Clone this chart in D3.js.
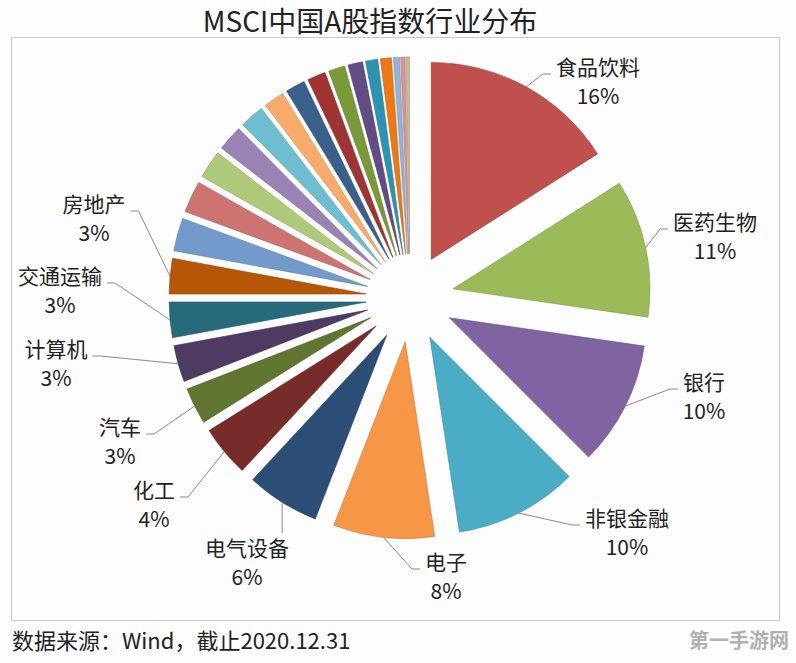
<!DOCTYPE html>
<html>
<head>
<meta charset="utf-8">
<script src="https://cdn.jsdelivr.net/npm/d3@7"></script>
<style>
  body { margin: 0; background: #fdfdfe; }
  svg text { font-family: "Noto Sans CJK SC", "Noto Sans", sans-serif; fill: #222; }
</style>
</head>
<body>
<div id="chart"></div>
<script>
// industry weights, clockwise from 12 o'clock
const industries = ["食品饮料", "医药生物", "银行", "非银金融", "电子", "电气设备", "化工", "汽车", "计算机", "交通运输", "房地产",
  "其他1", "其他2", "其他3", "其他4", "其他5", "其他6", "其他7", "其他8", "其他9", "其他10", "其他11", "其他12", "其他13", "其他14", "其他15"];
const weights = [16.0, 11.3, 10.2, 10.1, 8.3, 6.0, 4.2, 3.0, 3.0, 2.9, 2.9,
  2.7, 2.6, 2.3, 2.1, 2.0, 1.7, 1.6, 1.5, 1.35, 1.2, 1.0, 0.9, 0.5, 0.35, 0.3];
const labelled = 11; // first 11 slices carry labels

const colors = ["#c0504d", "#9bbb59", "#8064a2", "#4bacc6", "#f79646", "#2c4d75", "#772c2a", "#5f7530", "#4d3b62", "#276a7c", "#b65708",
  "#729aca", "#cd7371", "#afc97a", "#9983b5", "#6fbdd1", "#f9ab6b", "#3a5f8b", "#9e3532", "#7a9a3a", "#624c84", "#2e93b0", "#ec7a14", "#95b3d7", "#d99694", "#c4bd97"];

// label name centres (layout, not data)
const labelPos = [[598, 68], [715, 223], [704, 383], [627, 519], [446, 563], [247, 549], [154, 491], [120, 428], [56, 350], [60, 277], [94, 205]];

const width = 796, height = 663;
const cx = 410, cy = 298, radius = 197, explode = 44;

const svg = d3.select("#chart").append("svg")
  .attr("width", width).attr("height", height);

svg.append("rect").attr("x", 11.5).attr("y", 37.5).attr("width", 768).attr("height", 583)
  .attr("fill", "#fdfdfe").attr("stroke", "#c9c9c9");

svg.append("text").attr("x", 370).attr("y", 32).attr("text-anchor", "middle")
  .attr("font-size", 28).text("MSCI中国A股指数行业分布");

svg.append("text").attr("x", 12).attr("y", 649).attr("font-size", 22)
  .text("数据来源：Wind，截止2020.12.31");

svg.append("text").attr("x", 789).attr("y", 648).attr("text-anchor", "end")
  .attr("font-size", 20).attr("font-weight", "bold").style("fill", "#b0b0b0")
  .text("第一手游网");

const pie = d3.pie().sort(null).value(d => d);
const arc = d3.arc().innerRadius(0).outerRadius(radius);
const arcs = pie(weights);
const total = d3.sum(weights);

const g = svg.append("g").attr("transform", `translate(${cx},${cy})`);

function mid(d) { return (d.startAngle + d.endAngle) / 2; }

g.selectAll("path.slice").data(arcs).enter()
  .append("path")
  .attr("class", "slice")
  .attr("transform", d => `translate(${explode * Math.sin(mid(d))},${-explode * Math.cos(mid(d))})`)
  .attr("d", arc)
  .attr("fill", (d, i) => colors[i])
  .attr("stroke", (d, i) => d3.color(colors[i]).darker(0.6))
  .attr("stroke-width", 0.6);

const labels = svg.append("g");
arcs.slice(0, labelled).forEach((d, i) => {
  const [lx, ly] = labelPos[i];
  const name = labels.append("text").attr("x", lx).attr("y", ly + 7).attr("text-anchor", "middle")
    .attr("font-size", 21).text(industries[i]);
  labels.append("text").attr("x", lx).attr("y", ly + 36).attr("text-anchor", "middle")
    .attr("font-size", 21).text(Math.round(d.value / total * 100) + "%");

  const half = name.node().getComputedTextLength() / 2;
  const a = mid(d);
  const sx = cx + (radius + explode) * Math.sin(a);
  const sy = cy - (radius + explode) * Math.cos(a);
  let pts;
  if (Math.abs(sx - lx) < half) {
    pts = [[sx, sy], [sx, ly - 16]];
  } else if (sx < lx) {
    const ex = lx - half - 5;
    pts = [[sx, sy], [ex - 8, ly + 6], [ex, ly + 6]];
  } else {
    const ex = lx + half + 5;
    pts = [[sx, sy], [ex + 8, ly + 6], [ex, ly + 6]];
  }
  labels.append("path").attr("d", d3.line()(pts))
    .attr("fill", "none").attr("stroke", "#8a8a8a").attr("stroke-width", 1);
});
</script>
</body>
</html>
